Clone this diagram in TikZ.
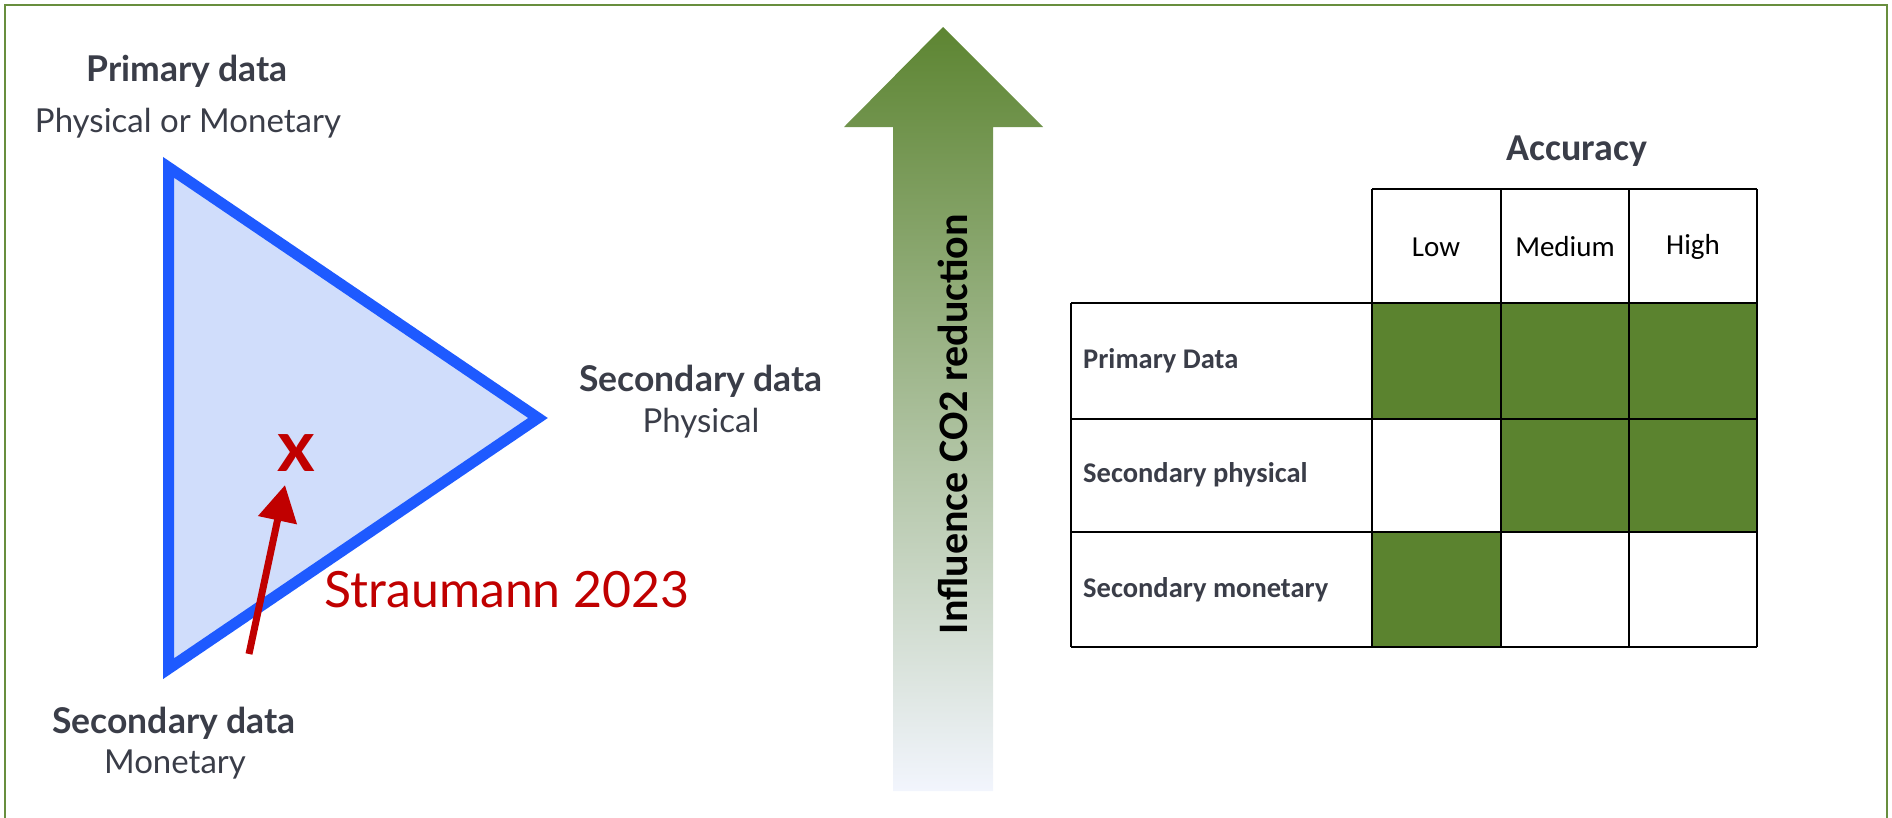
\documentclass[tikz,border=0pt]{standalone}
\usepackage{fontspec}
\setmainfont{Carlito}
\newfontfamily\labelfont{Lato}
\usetikzlibrary{arrows.meta}

\definecolor{framegreen}{RGB}{104,142,62}
\definecolor{cellgreen}{RGB}{91,131,47}
\definecolor{arrowgreen}{RGB}{93,133,50}
\definecolor{arrowmid}{RGB}{178,196,168}
\definecolor{arrowpale}{RGB}{242,245,253}
\definecolor{triblue}{RGB}{30,90,255}
\definecolor{trifill}{RGB}{208,221,251}
\definecolor{darkred}{RGB}{192,0,0}
\definecolor{slate}{RGB}{58,61,72}

\tikzset{
  cornerhead/.style={text=slate,inner sep=0pt,font=\labelfont\bfseries\fontsize{35.5}{38}\selectfont},
  cornersub/.style={text=slate,inner sep=0pt,font=\labelfont\fontsize{33}{36}\selectfont},
  rowlabel/.style={text=slate,anchor=west,inner sep=0pt,font=\bfseries\fontsize{28.5}{30}\selectfont},
  collabel/.style={inner sep=0pt,font=\fontsize{29}{32}\selectfont},
  greencell/.style={fill=cellgreen},
}

\begin{document}
\begin{tikzpicture}[x=1pt,y=-1pt]
    \useasboundingbox (0,0) rectangle (1892,817);

    % Outer frame (open at the bottom)
    \draw[framegreen,line width=2.5pt] (5,818) -- (5,5) -- (1887,5) -- (1887,818);

    % Data triangle
    \coordinate (primary) at (168.5,167.3);
    \coordinate (secmon) at (168.5,668.7);
    \coordinate (secphys) at (538,418);
    \draw[triblue,fill=trifill,line width=11pt,line join=miter] (primary) -- (secphys) -- (secmon) -- cycle;

    % Corner labels
    \node[cornerhead] (primhead) at (187,71) {Primary data};
    \node[cornersub] (primsub) at (188,123) {Physical or Monetary};
    \node[cornerhead] (physhead) at (701,381) {Secondary data};
    \node[cornersub] (physsub) at (701,423) {Physical};
    \node[cornerhead] (monhead) at (174,723) {Secondary data};
    \node[cornersub] (monsub) at (175,764) {Monetary};

    % Own position
    \node[text=darkred,inner sep=0pt,font=\labelfont\bfseries\fontsize{72}{72}\selectfont] (mark) at (296,453) {x};
    \coordinate (stail) at (249,654);
    \coordinate (stip) at (285,485);
    \draw[darkred,line width=7pt,-{Triangle[length=36pt,width=38pt]}] (stail) -- (stip);
    \node[text=darkred,inner sep=0pt,font=\labelfont\fontsize{50}{50}\selectfont] (source) at (507,590) {Straumann 2023};

    % Influence arrow
    \shade[top color=arrowgreen,middle color=arrowmid,bottom color=arrowpale]
      (893,791) -- (893,127) -- (844,127) -- (943,27) -- (1043,127) -- (993,127) -- (993,791) -- cycle;
    \node[rotate=90,inner sep=0pt,font=\bfseries\fontsize{42}{44}\selectfont] (influence) at (953,424) {Influence CO2 reduction};

    % Accuracy table
    \node[text=slate,inner sep=0pt,font=\bfseries\fontsize{38}{40}\selectfont] (accuracy) at (1577,151) {Accuracy};
    \fill[greencell] (1372,303) rectangle (1757,419);
    \fill[greencell] (1501,419) rectangle (1757,532);
    \fill[greencell] (1372,532) rectangle (1501,647);
    \draw[line width=2pt] (1372,189) -- (1757,189);
    \draw[line width=2pt] (1071,303) -- (1757,303);
    \draw[line width=2pt] (1071,419) -- (1757,419);
    \draw[line width=2pt] (1071,532) -- (1757,532);
    \draw[line width=2pt] (1071,647) -- (1757,647);
    \draw[line width=2pt] (1071,303) -- (1071,647);
    \draw[line width=2pt] (1372,189) -- (1372,647);
    \draw[line width=2pt] (1501,189) -- (1501,647);
    \draw[line width=2pt] (1629,189) -- (1629,647);
    \draw[line width=2pt] (1757,189) -- (1757,647);

    \node[collabel] (low) at (1436,247) {Low};
    \node[collabel] (medium) at (1565,247) {Medium};
    \node[collabel] (high) at (1693,247) {High};
    \node[rowlabel] (rowprim) at (1083,361) {Primary Data};
    \node[rowlabel] (rowphys) at (1083,475) {Secondary physical};
    \node[rowlabel] (rowmon) at (1083,590) {Secondary monetary};
\end{tikzpicture}
\end{document}
